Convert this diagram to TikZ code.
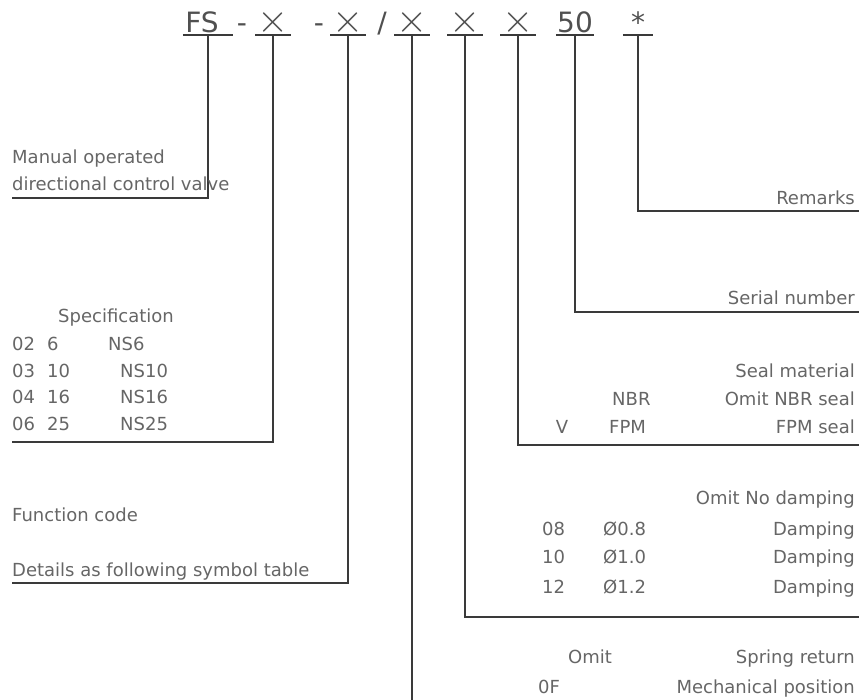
\documentclass[tikz,border=0pt]{standalone}
\usepackage{fontspec}
\setmainfont{DejaVu Sans}
\newfontfamily\lmfont{lmroman10-regular.otf}
\definecolor{txtc}{HTML}{666666}
\definecolor{hdrc}{HTML}{505050}
\definecolor{linec}{HTML}{3A3A3A}
\begin{document}
\begin{tikzpicture}[x=1pt,y=-1pt,
  conn/.style={draw=linec, line width=1.6pt},
  txt/.style={text=txtc, font=\fontsize{18}{20}\selectfont, inner sep=0pt, anchor=base west},
  rtxt/.style={txt, anchor=base east},
  hdr/.style={text=hdrc, font=\fontsize{28}{30}\selectfont, inner sep=0pt, text depth=2pt, anchor=south},
  crs/.style={hdr, minimum width=35pt, font=\lmfont\fontsize{40}{42}\selectfont}]
\useasboundingbox (0,0) rectangle (859,699);
% header
\node[hdr, minimum width=50pt] (fs) at (208,35) {FS\hspace*{12pt}};
\node[hdr] (d1) at (242,35) {-};
\node[crs] (x1) at (273,35) {×};
\node[hdr] (d2) at (319,35) {-};
\node[crs] (x2) at (348,35) {×};
\node[hdr] (sl) at (382,35) {/};
\node[crs] (x3) at (412,35) {×};
\node[crs] (x4) at (465,35) {×};
\node[crs] (x5) at (518,35) {×};
\node[hdr, minimum width=38pt] (n50) at (575,35) {50};
\node[hdr, minimum width=30pt] (star) at (638,35) {*};
\foreach \n in {fs,x1,x2,x3,x4,x5,n50,star}
  \draw[conn] (\n.south west) -- (\n.south east);
% end points
\coordinate (e1) at (12,198);
\coordinate (e2) at (12,442);
\coordinate (e3) at (12,583);
\coordinate (bot) at (0,702);
\coordinate (e5) at (859,617);
\coordinate (e6) at (859,445);
\coordinate (e7) at (859,312);
\coordinate (e8) at (859,211);
\draw[conn] (fs.south) |- (e1);
\draw[conn] (x1.south) |- (e2);
\draw[conn] (x2.south) |- (e3);
\draw[conn] (x3.south) -- (x3.south |- bot);
\draw[conn] (x4.south) |- (e5);
\draw[conn] (x5.south) |- (e6);
\draw[conn] (n50.south) |- (e7);
\draw[conn] (star.south) |- (e8);
% left texts
\node[txt] (m1) at (12,163) {Manual operated};
\node[txt] (m2) at (12,190) {directional control valve};
\node[txt] (sp) at (58,322) {Specification};
\node[txt] (r1a) at (12,350) {02};
\node[txt] (r1b) at (47,350) {6};
\node[txt] (r1c) at (108,350) {NS6};
\node[txt] (r2a) at (12,377) {03};
\node[txt] (r2b) at (47,377) {10};
\node[txt] (r2c) at (120,377) {NS10};
\node[txt] (r3a) at (12,403) {04};
\node[txt] (r3b) at (47,403) {16};
\node[txt] (r3c) at (120,403) {NS16};
\node[txt] (r4a) at (12,430) {06};
\node[txt] (r4b) at (47,430) {25};
\node[txt] (r4c) at (120,430) {NS25};
\node[txt] (fc) at (12,521) {Function code};
\node[txt] (dt) at (12,576) {Details as following symbol table};
% right texts
\node[rtxt] (rm) at (855,204) {Remarks};
\node[rtxt] (sn) at (855,304) {Serial number};
\node[rtxt] (sm) at (855,377) {Seal material};
\node[txt] (nbr) at (612,405) {NBR};
\node[rtxt] (onbr) at (855,405) {Omit NBR seal};
\node[txt, anchor=base] (v) at (562,433) {V};
\node[txt] (fpm) at (609,433) {FPM};
\node[rtxt] (fpms) at (855,433) {FPM seal};
\node[rtxt] (ond) at (855,504) {Omit No damping};
\node[txt] (c08) at (542,535) {08};
\node[txt] (d08) at (603,535) {Ø0.8};
\node[rtxt] (p08) at (855,535) {Damping};
\node[txt] (c10) at (542,563) {10};
\node[txt] (d10) at (603,563) {Ø1.0};
\node[rtxt] (p10) at (855,563) {Damping};
\node[txt] (c12) at (542,593) {12};
\node[txt] (d12) at (603,593) {Ø1.2};
\node[rtxt] (p12) at (855,593) {Damping};
\node[txt] (om) at (568,663) {Omit};
\node[rtxt] (sr) at (855,663) {Spring return};
\node[txt] (of) at (538,693) {0F};
\node[rtxt] (mp) at (855,693) {Mechanical position};
\end{tikzpicture}
\end{document}
